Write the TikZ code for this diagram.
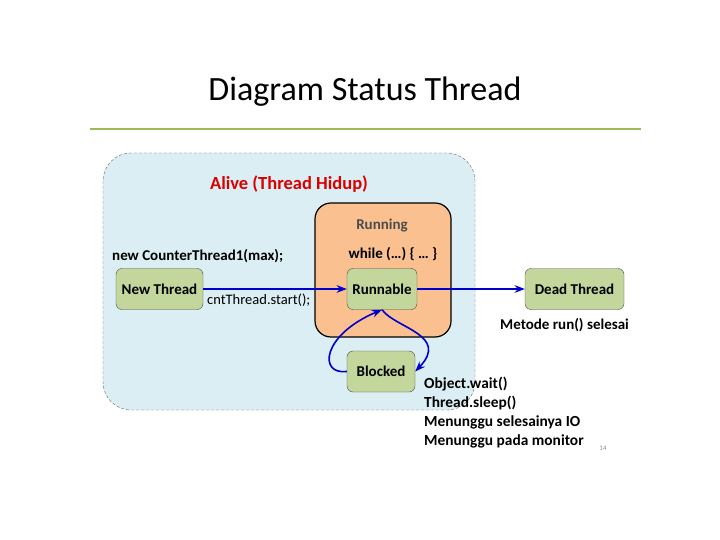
\documentclass[tikz,border=0pt]{standalone}
\usepackage{fontspec}
\setmainfont{Carlito}
\usetikzlibrary{arrows.meta}
\definecolor{alivefill}{RGB}{219,238,243}
\definecolor{runfill}{RGB}{250,192,144}
\definecolor{statefill}{RGB}{195,214,155}
\definecolor{rulegreen}{RGB}{155,187,89}
\definecolor{arrowblue}{RGB}{0,0,204}
\begin{document}
\begin{tikzpicture}[
    x=1pt,y=-1pt,
    font=\fontsize{15}{17}\selectfont\bfseries,>=Stealth,
    state/.style={draw=black!70,fill=statefill,rounded corners=6pt,thin,minimum height=41pt,inner sep=2pt},
    trans/.style={->,draw=arrowblue,line width=1.6pt},
    note/.style={anchor=west,inner sep=0pt},
    ]
    \useasboundingbox (0,0) rectangle (720,540);
    % title and rule
    \node (title) at (365,92) {\fontsize{34}{38}\selectfont\mdseries Diagram Status Thread};
    \draw[rulegreen,line width=1.5pt] (90,129) -- (641,129);
    % containers
    \draw[fill=alivefill,draw=black!60,densely dashed,rounded corners=28pt] (103,153) rectangle (475,410);
    \node[text=red!85!black,font=\fontsize{18.5}{20}\selectfont\bfseries] (alive) at (289,184) {Alive (Thread Hidup)};
    \draw[fill=runfill,draw=black,line width=1.2pt,rounded corners=16pt] (315,203) rectangle (451,337);
    \node[text=black!70] (running) at (382,226) {Running};
    \node (loop) at (393,254) {while (…) \{ … \}};
    % states
    \node[state,minimum width=87pt] (new) at (159.5,289) {New Thread};
    \node[state,minimum width=70pt] (runnable) at (382,289) {Runnable};
    \node[state,minimum width=99pt] (dead) at (574.5,289) {Dead Thread};
    \node[state,minimum width=68pt] (blocked) at (381,371.5) {Blocked};
    % transitions
    \draw[trans] (new) -- (runnable);
    \draw[trans] (runnable) -- (dead);
    \draw[trans] (blocked.west) .. controls (318,375) and (322,335) .. (runnable.south);
    \draw[trans] (runnable.south) .. controls (395,328) and (450,335) .. (blocked.east);
    % labels
    \node[note] (create) at (112,256) {new CounterThread1(max);};
    \node[note,font=\fontsize{14.5}{17}\selectfont] (start) at (207,300) {cntThread.start();};
    \node[note] (done) at (500,325) {Metode run() selesai};
    \node[note,align=left,font=\fontsize{15.4}{19}\selectfont\bfseries,anchor=north west] (why) at (424,377) {Object.wait()\\Thread.sleep()\\Menunggu selesainya IO\\Menunggu pada monitor};
    \node[text=black!45,font=\fontsize{7}{8}\selectfont] (page) at (603,448) {14};
\end{tikzpicture}
\end{document}
